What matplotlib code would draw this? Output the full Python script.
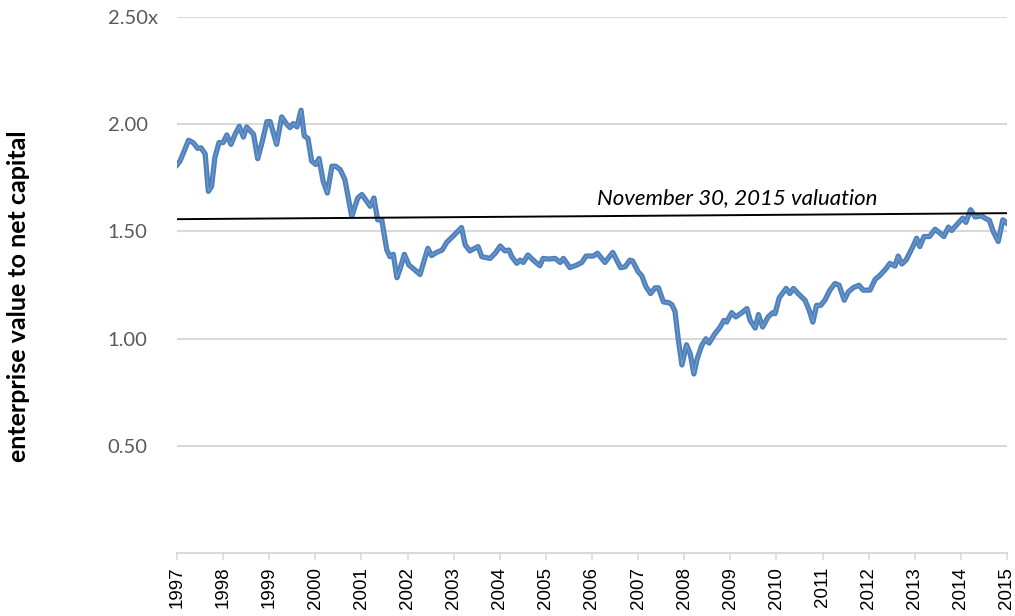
import matplotlib
matplotlib.use('Agg')
import matplotlib.pyplot as plt

# decimal year positions and EV / net capital readings
years = [1997.00, 1997.07, 1997.25, 1997.35, 1997.45, 1997.52, 1997.61, 1997.68, 1997.75, 1997.82,
         1997.91, 1998.00, 1998.08, 1998.17, 1998.26, 1998.35, 1998.44, 1998.51, 1998.66, 1998.75,
         1998.85, 1998.95, 1999.02, 1999.16, 1999.27, 1999.38, 1999.45, 1999.52, 1999.60, 1999.69,
         1999.76, 1999.84, 1999.92, 2000.01, 2000.08, 2000.17, 2000.26, 2000.36, 2000.44, 2000.54,
         2000.64, 2000.79, 2000.92, 2001.01, 2001.19, 2001.27, 2001.35, 2001.44, 2001.55, 2001.62,
         2001.69, 2001.77, 2001.84, 2001.93, 2002.03, 2002.16, 2002.27, 2002.44, 2002.52, 2002.63,
         2002.75, 2002.85, 2003.03, 2003.17, 2003.25, 2003.35, 2003.53, 2003.61, 2003.79, 2003.90,
         2004.01, 2004.11, 2004.20, 2004.26, 2004.37, 2004.44, 2004.51, 2004.61, 2004.76, 2004.87,
         2004.94, 2005.05, 2005.20, 2005.31, 2005.38, 2005.52, 2005.67, 2005.78, 2005.87, 2006.03,
         2006.12, 2006.28, 2006.45, 2006.62, 2006.72, 2006.82, 2006.88, 2007.00, 2007.08, 2007.17,
         2007.27, 2007.37, 2007.44, 2007.55, 2007.66, 2007.73, 2007.80, 2007.87, 2007.95, 2008.05,
         2008.13, 2008.21, 2008.28, 2008.38, 2008.47, 2008.54, 2008.65, 2008.78, 2008.86, 2008.92,
         2009.03, 2009.12, 2009.25, 2009.36, 2009.43, 2009.54, 2009.61, 2009.70, 2009.82, 2009.92,
         2009.97, 2010.06, 2010.21, 2010.29, 2010.37, 2010.47, 2010.62, 2010.71, 2010.79, 2010.87,
         2010.96, 2011.05, 2011.16, 2011.27, 2011.36, 2011.47, 2011.56, 2011.67, 2011.79, 2011.88,
         2012.03, 2012.14, 2012.25, 2012.38, 2012.46, 2012.57, 2012.64, 2012.72, 2012.81, 2012.96,
         2013.04, 2013.11, 2013.20, 2013.32, 2013.44, 2013.53, 2013.63, 2013.73, 2013.80, 2013.91,
         2014.04, 2014.11, 2014.21, 2014.31, 2014.45, 2014.52, 2014.62, 2014.70, 2014.81, 2014.91,
         2015.00]
ev_to_capital = [1.81, 1.83, 1.925, 1.914, 1.887, 1.89, 1.862, 1.687, 1.71, 1.843,
                 1.914, 1.914, 1.95, 1.906, 1.953, 1.99, 1.94, 1.987, 1.953, 1.839,
                 1.92, 2.012, 2.012, 1.906, 2.034, 2.0, 1.984, 2.003, 1.987, 2.065,
                 1.945, 1.934, 1.828, 1.812, 1.84, 1.734, 1.679, 1.804, 1.804, 1.788,
                 1.742, 1.57, 1.656, 1.672, 1.617, 1.656, 1.554, 1.554, 1.413, 1.382,
                 1.393, 1.284, 1.327, 1.393, 1.343, 1.32, 1.299, 1.421, 1.387, 1.402,
                 1.413, 1.449, 1.487, 1.518, 1.437, 1.409, 1.429, 1.382, 1.374, 1.398,
                 1.432, 1.409, 1.413, 1.382, 1.351, 1.366, 1.355, 1.39, 1.359, 1.34,
                 1.374, 1.371, 1.374, 1.355, 1.374, 1.331, 1.343, 1.355, 1.385, 1.385,
                 1.398, 1.355, 1.402, 1.331, 1.335, 1.366, 1.362, 1.312, 1.293, 1.242,
                 1.21, 1.237, 1.237, 1.171, 1.168, 1.159, 1.127, 0.999, 0.877, 0.971,
                 0.929, 0.835, 0.905, 0.968, 0.999, 0.979, 1.018, 1.054, 1.085, 1.077,
                 1.121, 1.101, 1.121, 1.14, 1.085, 1.049, 1.112, 1.054, 1.101, 1.121,
                 1.116, 1.19, 1.234, 1.21, 1.234, 1.21, 1.179, 1.132, 1.077, 1.155,
                 1.155, 1.179, 1.226, 1.257, 1.249, 1.179, 1.218, 1.238, 1.249, 1.226,
                 1.226, 1.276, 1.296, 1.327, 1.351, 1.338, 1.385, 1.348, 1.366, 1.429,
                 1.468, 1.429, 1.476, 1.476, 1.51, 1.495, 1.476, 1.52, 1.504, 1.531,
                 1.562, 1.542, 1.601, 1.567, 1.573, 1.562, 1.551, 1.5, 1.453, 1.554,
                 1.538]

ref_x = [1997, 2015]
ref_y = [1.557, 1.585]
ref_label = 'November 30, 2015 valuation'

year_ticks = list(range(1997, 2016))
y_ticks = [0.5, 1.0, 1.5, 2.0, 2.5]
y_labels = ['0.50', '1.00', '1.50', '2.00', '2.50x']


def main():
	fig = plt.figure(figsize=(10.15, 6.16), dpi=100)
	ax = fig.add_axes([0.1744, 0.1023, 0.8177, 0.8701])

	ax.plot(years, ev_to_capital, color='#4f81bd', lw=3.8, solid_joinstyle='round', zorder=3)
	ax.plot(years, ev_to_capital, color='white', lw=0.5, alpha=0.3, zorder=4)
	ax.plot(ref_x, ref_y, color='black', lw=1.4, zorder=5)
	ax.text(2006.1, 1.655, ref_label, fontsize=16, style='italic', family='Lato',
	        va='center', ha='left')

	ax.set_xlim(1997, 2015)
	ax.set_ylim(0, 2.5)

	ax.set_yticks(y_ticks)
	ax.set_yticklabels(y_labels, family='Lato', fontsize=14.5, color='#595959')
	for lab in ax.get_yticklabels():
		lab.set_horizontalalignment('left')
	ax.tick_params(axis='y', length=0, pad=50)
	ax.grid(axis='y', color='#d9d9d9', lw=1.5)
	ax.set_axisbelow(True)

	ax.set_xticks(year_ticks)
	ax.set_xticklabels([str(y) for y in year_ticks], rotation=90, family='Liberation Sans',
	                   fontsize=13.5, color='black')
	ax.tick_params(axis='x', length=5, width=1.2, color='#d9d9d9', pad=5)
	ax.get_xticklines()[-2].set_color('#4f81bd')

	for s in ['top', 'right', 'left']:
		ax.spines[s].set_visible(False)
	ax.spines['bottom'].set_color('#d9d9d9')
	ax.spines['bottom'].set_linewidth(1.5)

	ax.set_ylabel('enterprise value to net capital', family='Lato', fontweight='bold', fontsize=18)
	ax.yaxis.set_label_coords(-0.177, 0.48)

	fig.savefig('out.png', dpi=100)


if __name__ == '__main__':
	main()
